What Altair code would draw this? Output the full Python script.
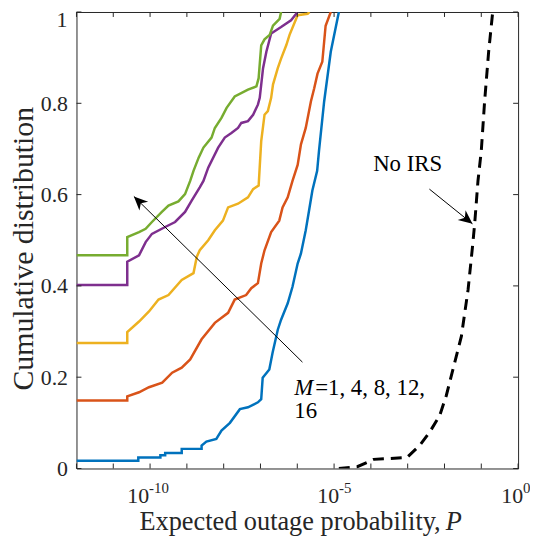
import altair as alt
import pandas as pd

# ---------------- data (log10 of expected outage probability, CDF) -------------
m1_logp = [-12, -10.32, -10.32, -9.72, -9.72, -9.59, -9.59, -9.14, -9.14, -8.6, -8.6, -8.47, -8.2,
           -8.06, -7.83, -7.56, -7.34, -7.07, -6.98, -6.94, -6.76, -6.67, -6.53, -6.44, -6.26,
           -6.13, -5.99, -5.9, -5.77, -5.68, -5.59, -5.46, -5.41, -5.27, -5.09, -4.87]
m1_cdf = [0.017, 0.017, 0.024, 0.024, 0.029, 0.029, 0.034, 0.034, 0.043, 0.043, 0.05, 0.059, 0.065,
          0.083, 0.10, 0.13, 0.134, 0.145, 0.152, 0.199, 0.217, 0.254, 0.304, 0.326, 0.362,
          0.398, 0.449, 0.471, 0.522, 0.565, 0.609, 0.652, 0.696, 0.804, 0.913, 1.0]

m4_logp = [-12, -10.62, -10.62, -10.3, -10.03, -9.67, -9.4, -9.14, -8.91, -8.6, -8.24, -7.88, -7.7,
           -7.39, -7.25, -7.07, -6.98, -6.89, -6.71, -6.49, -6.4, -6.26, -6.13, -5.99, -5.9,
           -5.77, -5.63, -5.54, -5.45, -5.32, -5.23, -5.09]
m4_cdf = [0.149, 0.149, 0.158, 0.167, 0.178, 0.188, 0.21, 0.221, 0.239, 0.283, 0.319, 0.341, 0.37,
          0.38, 0.395, 0.406, 0.449, 0.478, 0.518, 0.543, 0.572, 0.594, 0.63, 0.665, 0.71,
          0.746, 0.804, 0.833, 0.865, 0.891, 0.97, 1.0]

m8_logp = [-12, -10.62, -10.62, -10.3, -10.03, -9.77, -9.5, -9.14, -8.82, -8.73, -8.65, -8.42, -8.24,
           -8.02, -7.88, -7.61, -7.34, -7.2, -7.05, -6.98, -6.89, -6.8, -6.71, -6.66, -6.53,
           -6.44, -6.3, -6.21, -6.03, -5.99, -5.72, -5.67]
m8_cdf = [0.275, 0.275, 0.299, 0.322, 0.344, 0.37, 0.38, 0.413, 0.428, 0.464, 0.478, 0.5, 0.522,
          0.543, 0.572, 0.58, 0.594, 0.612, 0.62, 0.717, 0.775, 0.783, 0.812, 0.841, 0.877,
          0.898, 0.927, 0.95, 0.985, 0.993, 0.996, 1.0]

m12_logp = [-12, -10.62, -10.62, -10.3, -10.12, -9.95, -9.59, -9.32, -9.05, -8.87, -8.65, -8.55,
            -8.42, -8.15, -7.97, -7.79, -7.61, -7.52, -7.34, -7.2, -7.07, -7.02, -6.93, -6.84,
            -6.71, -6.44, -6.17, -5.99]
m12_cdf = [0.402, 0.402, 0.453, 0.467, 0.496, 0.514, 0.529, 0.54, 0.562, 0.587, 0.616, 0.63,
           0.659, 0.703, 0.725, 0.735, 0.746, 0.757, 0.761, 0.775, 0.797, 0.812, 0.877, 0.913,
           0.953, 0.967, 0.982, 1.0]

m16_logp = [-12, -10.62, -10.62, -10.3, -10.12, -9.95, -9.68, -9.5, -9.23, -9.05, -8.91, -8.82,
            -8.68, -8.55, -8.33, -8.24, -8.06, -7.92, -7.7, -7.34, -7.11, -7.05, -6.98, -6.89,
            -6.75, -6.66, -6.48, -6.44]
m16_cdf = [0.467, 0.467, 0.507, 0.518, 0.525, 0.54, 0.562, 0.576, 0.585, 0.601, 0.63, 0.652,
           0.681, 0.703, 0.725, 0.746, 0.768, 0.79, 0.815, 0.83, 0.837, 0.855, 0.927, 0.94,
           0.95, 0.97, 0.985, 1.0]

noirs_logp = [-4.87, -4.37, -3.92, -3.02, -2.67, -2.4, -2.13, -1.95, -1.77, -1.54, -1.36, -1.24,
              -1.18, -1.09, -1.0, -0.91, -0.8, -0.69]
noirs_cdf = [0.0, 0.004, 0.02, 0.024, 0.051, 0.08, 0.116, 0.16, 0.217, 0.29, 0.391, 0.485,
             0.536, 0.63, 0.696, 0.804, 0.913, 1.0]

series_colors = ["#0072BD", "#D95319", "#EDB120", "#7E2F8E", "#77AC30"]

x_tick_exps = list(range(-12, 1))
x_label_exps = [-10, -5, 0]
x_label_texts = ["-10", "-5", "0"]
x_label_dx = [-1, 5, 5]
y_ticks = [0, 0.2, 0.4, 0.6, 0.8, 1.0]

# annotation anchors (log10 P, CDF)
m_arrow = {"x1": -5.86, "y1": 0.233, "x2": -10.44, "y2": 0.596}
noirs_arrow = {"x1": -2.41, "y1": 0.612, "x2": -1.24, "y2": 0.536}
m_text_pos = (-6.08, 0.1615)
m16_text_pos = (-6.08, 0.110)
noirs_text_pos = (-3.0, 0.652)

# ---------------------------------------------------------------------------
W, H = 445, 460
FONT = "Liberation Serif"
AX = "#262626"

xscale = alt.Scale(type="log", domain=[1e-12, 1], nice=False)
yscale = alt.Scale(domain=[0, 1], nice=False)

x_axis = alt.Axis(labels=False, ticks=False, domain=False, grid=False, title=None)
y_axis = alt.Axis(values=y_ticks, format="~g", labelExpr="datum.value == 1 ? '' : datum.label",
                  ticks=False, tickSize=0, domain=False, grid=False,
                  labelFont=FONT, labelFontSize=22, labelColor=AX, labelPadding=9,
                  title="Cumulative distribution", titleFont=FONT, titleFontSize=30,
                  titleFontWeight="normal", titleColor=AX, titleX=-44, titleY=H / 2 + 8,
                  titleBaseline="alphabetic", titleAngle=-90, titleAlign="center")


def X(field="P"):
    return alt.X(f"{field}:Q", scale=xscale, axis=x_axis)


def Y(field="F"):
    return alt.Y(f"{field}:Q", scale=yscale, axis=y_axis)


def sdf(logp, cdf):
    return pd.DataFrame({"P": [10.0 ** v for v in logp], "F": cdf, "i": list(range(len(cdf)))})


layers = []
for (lp, cd), col in zip([(m1_logp, m1_cdf), (m4_logp, m4_cdf), (m8_logp, m8_cdf),
                          (m12_logp, m12_cdf), (m16_logp, m16_cdf)], series_colors):
    layers.append(alt.Chart(sdf(lp, cd)).mark_line(color=col, strokeWidth=2.5, clip=True)
                  .encode(x=X(), y=Y(), order="i:Q"))

layers.append(alt.Chart(sdf(noirs_logp, noirs_cdf))
              .mark_line(color="black", strokeWidth=3, strokeDash=[11, 7], clip=True)
              .encode(x=X(), y=Y(), order="i:Q"))

# inward ticks
xt = pd.DataFrame({"P": [10.0 ** e for e in x_tick_exps]})
yt = pd.DataFrame({"F": y_ticks})
layers.append(alt.Chart(xt).mark_rule(color=AX, strokeWidth=1)
              .encode(x=X(), y=alt.value(H), y2=alt.value(H - 5)))
layers.append(alt.Chart(xt).mark_rule(color=AX, strokeWidth=1)
              .encode(x=X(), y=alt.value(0), y2=alt.value(5)))
layers.append(alt.Chart(yt).mark_rule(color=AX, strokeWidth=1)
              .encode(y=Y(), x=alt.value(0), x2=alt.value(5)))
layers.append(alt.Chart(yt).mark_rule(color=AX, strokeWidth=1)
              .encode(y=Y(), x=alt.value(W), x2=alt.value(W - 5)))

# top y label "1" kept inside the page
layers.append(alt.Chart(pd.DataFrame({"F": [1.0]})).mark_text(
    text="1", align="right", baseline="top", dx=-9, dy=-2, font=FONT, fontSize=22, color=AX)
    .encode(y=Y(), x=alt.value(0)))

# x tick labels 10^e
for e, txt, dx in zip(x_label_exps, x_label_texts, x_label_dx):
    d = pd.DataFrame({"P": [10.0 ** e]})
    layers.append(alt.Chart(d).mark_text(text="10", align="right", baseline="alphabetic", dx=dx,
                                         font=FONT, fontSize=22, color=AX)
                  .encode(x=X(), y=alt.value(H + 35)))
    layers.append(alt.Chart(d).mark_text(text=txt, align="left", baseline="alphabetic", dx=dx,
                                         font=FONT, fontSize=15, color=AX)
                  .encode(x=X(), y=alt.value(H + 25)))

# x title with italic P
layers.append(alt.Chart(pd.DataFrame({"a": [0]})).mark_text(
    text="Expected outage probability,", align="right", baseline="alphabetic",
    font=FONT, fontSize=26.5, color=AX).encode(x=alt.value(367), y=alt.value(H + 62)))
layers.append(alt.Chart(pd.DataFrame({"a": [0]})).mark_text(
    text="P", align="left", baseline="alphabetic", font=FONT, fontSize=26.5, fontStyle="italic",
    color=AX).encode(x=alt.value(372), y=alt.value(H + 62)))


# arrows
def arrow(a, angle):
    d = pd.DataFrame({"P": [10.0 ** a["x1"]], "F": [a["y1"]],
                      "P2": [10.0 ** a["x2"]], "F2": [a["y2"]]})
    line = alt.Chart(d).mark_rule(color="black", strokeWidth=1).encode(
        x=X("P"), y=Y("F"), x2="P2:Q", y2="F2:Q")
    head = alt.Chart(d).mark_point(
        shape="M0,0 L0.9,2 L0,1.4 L-0.9,2 Z", size=196, filled=True, color="black",
        opacity=1, angle=angle, strokeWidth=0).encode(x=X("P2"), y=Y("F2"))
    return [line, head]


layers += arrow(m_arrow, 314.4)
layers += arrow(noirs_arrow, 128.9)


# annotation texts
def tdf(pos):
    return pd.DataFrame({"P": [10.0 ** pos[0]], "F": [pos[1]]})


layers.append(alt.Chart(tdf(m_text_pos)).mark_text(
    text="M", align="left", baseline="alphabetic", font=FONT, fontSize=23, fontStyle="italic",
    color="black").encode(x=X(), y=Y()))
layers.append(alt.Chart(tdf(m_text_pos)).mark_text(
    text="=1, 4, 8, 12,", align="left", baseline="alphabetic", dx=21, font=FONT, fontSize=23,
    color="black").encode(x=X(), y=Y()))
layers.append(alt.Chart(tdf(m16_text_pos)).mark_text(
    text="16", align="left", baseline="alphabetic", font=FONT, fontSize=23,
    color="black").encode(x=X(), y=Y()))
layers.append(alt.Chart(tdf(noirs_text_pos)).mark_text(
    text="No IRS", align="center", baseline="alphabetic", font=FONT, fontSize=23,
    color="black").encode(x=X(), y=Y()))

chart = alt.layer(*layers).properties(
    width=W, height=H,
    autosize=alt.AutoSizeParams(type="none"),
    padding={"left": 69, "top": 2, "right": 12, "bottom": 68},
    background="white",
).configure_view(stroke=AX, strokeWidth=1)

chart.save("out.html", embed_options={"renderer": "svg", "actions": False})
